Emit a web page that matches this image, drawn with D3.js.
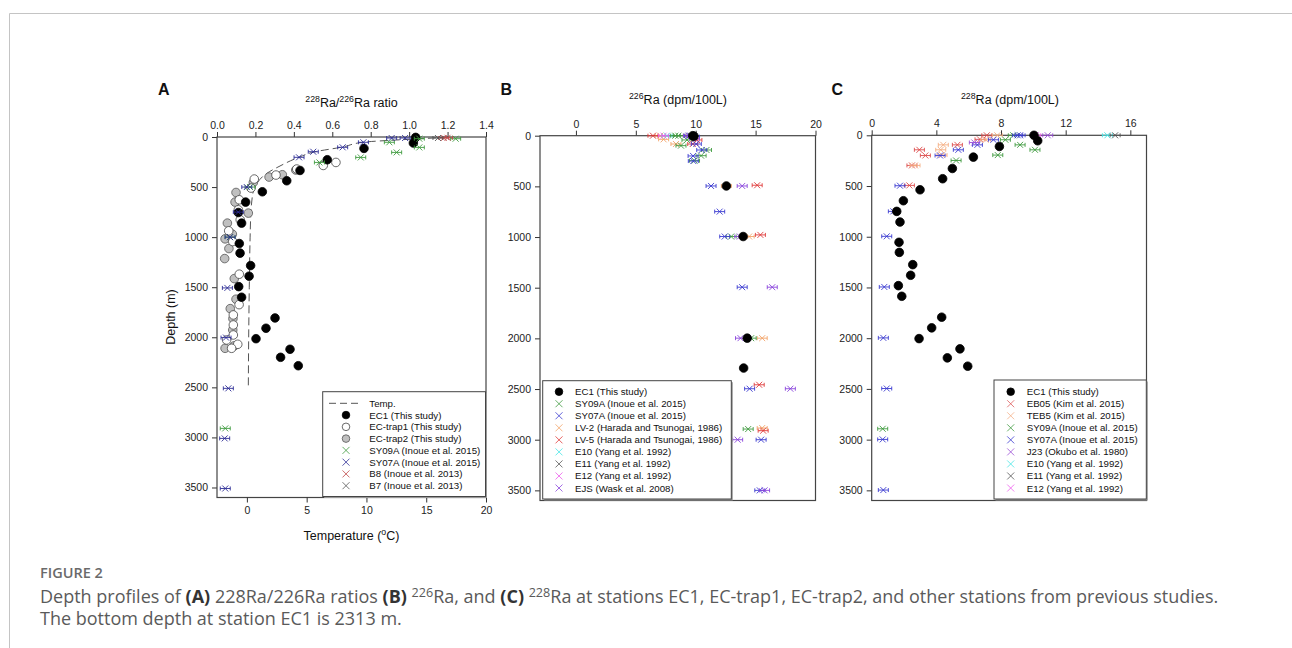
<!DOCTYPE html>
<html>
<head>
<meta charset="utf-8">
<script src="https://cdn.jsdelivr.net/npm/d3@7"></script>
<style>
  body { margin: 0; background: #fff; }
  svg { display: block; }
</style>
</head>
<body>
<div id="chart"></div>
<script>
// ---- data (value, depth in m) ----
// Panel A : 228Ra/226Ra ratio
var tempDepth = [0, 10, 30, 50, 100, 150, 200, 300, 360, 480, 600, 800, 1000, 1500, 2000, 2500];
var tempValue = [16.8, 15.6, 12.5, 9.9, 8.0, 5.6, 4.4, 2.6, 1.7, 0.75, 0.45, 0.32, 0.27, 0.2, 0.15, 0.12];

var ec1A = [[1.034, 4], [1.022, 60], [0.765, 114], [0.574, 227], [0.432, 334], [0.363, 437], [0.236, 547],
    [0.149, 650], [0.111, 754], [0.128, 860], [0.116, 1064], [0.120, 1160], [0.175, 1284], [0.167, 1390],
    [0.113, 1494], [0.128, 1600], [0.302, 1807], [0.255, 1910], [0.203, 2014], [0.380, 2120], [0.331, 2200], [0.423, 2284]];
var trap1A = [[0.619, 254], [0.553, 284], [0.415, 320], [0.307, 380], [0.194, 420], [0.177, 510], [0.116, 627],
    [0.111, 727], [0.121, 827], [0.061, 937], [0.082, 1044], [0.116, 1370], [0.115, 1674], [0.085, 1777],
    [0.085, 1877], [0.085, 1977], [0.05, 2027], [0.108, 2070], [0.076, 2110]];
var trap2A = [[0.41, 330], [0.34, 377], [0.271, 400], [0.189, 454], [0.099, 554], [0.094, 650], [0.163, 760],
    [0.054, 860], [0.080, 970], [0.042, 1017], [0.062, 1114], [0.040, 1214], [0.090, 1414], [0.099, 1620],
    [0.069, 1714], [0.083, 1814], [0.082, 1927], [0.09, 2085], [0.042, 2110]];
var sy09A_A = [[1.242, 17], [1.053, 17], [0.897, 53], [1.053, 104], [0.935, 154], [0.748, 204], [0.533, 254],
    [0.172, 500], [0.068, 1000], [0.043, 2910]];
var sy07A_A = [[0.909, 10], [0.979, 10], [0.762, 53], [0.654, 103], [0.501, 147], [0.427, 203], [0.155, 500],
    [0.111, 750], [0.068, 1000], [0.054, 1507], [0.047, 2003], [0.059, 2510], [0.04, 3010], [0.043, 3510]];
var b8A = [[1.18, 10], [1.2, 8]];
var b7A = [[1.15, 10]];

// Panel B : 226Ra (dpm/100L)
var ec1B = [[9.75, 0], [9.85, 5], [12.56, 496], [13.96, 995], [14.3, 1998], [14.0, 2293]];
var sy09B = [[8.3, 0], [8.55, 0], [9.27, 42], [8.77, 98], [10.9, 141], [10.45, 197], [9.9, 246], [12.96, 995],
    [14.63, 1998], [14.38, 2895]];
var sy07B = [[9.47, 0], [9.9, 10], [10.05, 82], [10.5, 141], [9.78, 200], [9.8, 250], [11.28, 496], [12.0, 749],
    [12.42, 995], [13.88, 1495], [14.5, 2497], [15.46, 3000], [15.35, 3500]];
var lv2B = [[7.04, 0], [7.32, 36], [8.35, 82], [12.56, 496], [14.46, 995], [15.55, 1998], [15.55, 2885]];
var lv5B = [[6.43, 0], [10.1, 42], [9.75, 82], [15.13, 489], [15.4, 979], [15.3, 2458], [15.63, 2911]];
var e10B = [[7.6, 0]];
var e11B = [[9.6, 0]];
var e12B = [[7.32, 0]];
var ejsB = [[9.4, 0], [9.9, 30], [13.88, 496], [13.68, 995], [16.39, 1495], [13.74, 1998], [17.9, 2497],
    [13.5, 3000], [15.75, 3500]];

// Panel C : 228Ra (dpm/100L)
var ec1C = [[10.04, 0], [10.27, 54], [7.9, 110], [6.29, 215], [4.99, 327], [4.39, 428], [2.99, 537], [1.96, 645],
    [1.55, 750], [1.75, 855], [1.69, 1055], [1.71, 1154], [2.54, 1275], [2.41, 1380], [1.65, 1482], [1.86, 1587],
    [4.33, 1793], [3.71, 1898], [2.93, 2004], [5.46, 2105], [4.68, 2194], [5.94, 2276]];
var eb05C = [[7.12, 0], [6.7, 40], [5.3, 94], [2.95, 143], [3.32, 199], [2.49, 297], [2.33, 494]];
var teb5C = [[7.77, 0], [7.05, 44], [4.43, 94], [4.27, 143], [4.35, 195], [2.68, 297]];
var sy09C = [[8.76, 0], [8.27, 44], [9.18, 94], [10.1, 143], [7.8, 195], [5.22, 248], [0.68, 2893]];
var sy07C = [[9.03, 0], [9.18, 0], [7.53, 44], [6.54, 94], [5.36, 143], [4.23, 199], [1.75, 497], [1.34, 750],
    [0.93, 996], [0.78, 1495], [0.72, 1997], [0.93, 2496], [0.68, 2998], [0.72, 3497]];
var j23C = [[10.89, 0], [6.35, 71]];
var e10C = [[14.58, 0]];
var e11C = [[15.06, 0]];
var e12C = [[10.15, 0]];

var depthTicks = [0, 500, 1000, 1500, 2000, 2500, 3000, 3500];
var ratioTicks = [0, 0.2, 0.4, 0.6, 0.8, 1.0, 1.2, 1.4];
var tempTicks = [0, 5, 10, 15, 20];
var ra226Ticks = [0, 5, 10, 15, 20];
var ra228Ticks = [0, 4, 8, 12, 16];

var FONT = "'Liberation Sans', Arial, sans-serif";
var CAPFONT = "'Open Sans', sans-serif";

var svg = d3.select("#chart").append("svg")
    .attr("width", 1292)
    .attr("height", 648);

// page frame
svg.append("path")
    .attr("d", "M9.5,648V13.5H1292")
    .attr("fill", "none")
    .attr("stroke", "#c4c4c4");

// text with superscripts / bold parts (shift carried to the next tspan)
function richText(sel, parts, supShift) {
    var back = 0;
    parts.forEach(function(p) {
        var t = sel.append("tspan").text(p.t);
        if (p.b) t.attr("font-weight", "bold").attr("fill", "#333");
        if (p.sup) {
            t.attr("font-size", "0.7em").attr("dy", back - supShift);
            back = supShift;
        } else if (back) {
            t.attr("dy", back);
            back = 0;
        }
    });
    return sel;
}

function styleAxis(a) {
    a.select(".domain").remove();
    a.selectAll(".tick line").attr("stroke", "#333");
    a.selectAll(".tick text")
        .attr("font-family", FONT)
        .attr("font-size", "10.5px")
        .attr("fill", "#222");
}

function makePanel(box, xDomain, xTicks, xFmt) {
    var x = d3.scaleLinear().domain(xDomain).range([box.left, box.right]);
    var y = d3.scaleLinear().domain([0, 3600]).range([box.top, box.bottom]);

    var g = svg.append("g");

    g.append("g")
        .attr("transform", `translate(0, ${box.top})`)
        .call(d3.axisTop(x).tickValues(xTicks).tickFormat(xFmt).tickSize(5).tickSizeOuter(0).tickPadding(3))
        .call(styleAxis);

    g.append("g")
        .attr("transform", `translate(${box.left}, 0)`)
        .call(d3.axisLeft(y).tickValues(depthTicks).tickFormat(d3.format("d")).tickSize(5).tickSizeOuter(0).tickPadding(4))
        .call(styleAxis);

    g.append("rect")
        .attr("x", box.left)
        .attr("y", box.top)
        .attr("width", box.right - box.left)
        .attr("height", box.bottom - box.top)
        .attr("fill", "none")
        .attr("stroke", "#444")
        .attr("stroke-width", 1.2);

    return {g: g, x: x, y: y};
}

function drawCircles(p, data, fill, stroke) {
    p.g.append("g").selectAll("circle")
        .data(data)
        .enter()
        .append("circle")
        .attr("cx", d => p.x(d[0]))
        .attr("cy", d => p.y(d[1]))
        .attr("r", 4.3)
        .attr("fill", fill)
        .attr("stroke", stroke)
        .attr("stroke-width", 0.8);
}

// x marker with small horizontal error bar
function drawCrosses(p, data, color) {
    p.g.append("g").selectAll("path")
        .data(data)
        .enter()
        .append("path")
        .attr("transform", d => `translate(${p.x(d[0])}, ${p.y(d[1])})`)
        .attr("d", "M-3,-3L3,3M-3,3L3,-3M-5,0H5M-5,-2V2M5,-2V2")
        .attr("fill", "none")
        .attr("stroke", color)
        .attr("stroke-width", 0.9);
}

function drawLegend(lg, items) {
    var g = svg.append("g");
    // shadow then box
    g.append("rect")
        .attr("x", lg.x0 + 1.5).attr("y", lg.y0 + 1.5)
        .attr("width", lg.x1 - lg.x0).attr("height", lg.y1 - lg.y0)
        .attr("fill", "#999");
    g.append("rect")
        .attr("x", lg.x0).attr("y", lg.y0)
        .attr("width", lg.x1 - lg.x0).attr("height", lg.y1 - lg.y0)
        .attr("fill", "#fff")
        .attr("stroke", "#444");

    items.forEach(function(it, i) {
        var cy = lg.row0 + i * lg.step;
        if (it.kind === "line") {
            g.append("line")
                .attr("x1", lg.sx - 17).attr("x2", lg.sx + 12)
                .attr("y1", cy).attr("y2", cy)
                .attr("stroke", "#555")
                .attr("stroke-dasharray", "7,4");
        } else if (it.kind === "circle") {
            g.append("circle")
                .attr("cx", lg.sx).attr("cy", cy).attr("r", 3.8)
                .attr("fill", it.fill).attr("stroke", it.stroke).attr("stroke-width", 0.8);
        } else {
            g.append("path")
                .attr("transform", `translate(${lg.sx}, ${cy})`)
                .attr("d", "M-3.5,-3.5L3.5,3.5M-3.5,3.5L3.5,-3.5")
                .attr("stroke", it.color)
                .attr("stroke-width", 0.8);
        }
        g.append("text")
            .attr("x", lg.tx)
            .attr("y", cy + 3.5)
            .attr("font-family", FONT)
            .attr("font-size", "9.7px")
            .attr("fill", "#111")
            .text(it.label);
    });
}

function panelLetter(x, txt) {
    svg.append("text")
        .attr("x", x).attr("y", 95)
        .attr("font-family", FONT)
        .attr("font-size", "16px")
        .attr("font-weight", "bold")
        .attr("fill", "#111")
        .text(txt);
}

function axisTitle(x, y, parts) {
    var t = svg.append("text")
        .attr("x", x).attr("y", y)
        .attr("text-anchor", "middle")
        .attr("font-family", FONT)
        .attr("font-size", "12.5px")
        .attr("fill", "#111");
    richText(t, parts, 5);
}

var green = "#3f9b3f", blue = "#3b3bd0", navy = "#2c2c95", red = "#e03a3a", orange = "#f3a46a",
    cyan = "#45e6e6", dark = "#555555", magenta = "#ee5cee", purple = "#8a45dd";

// ---------- Panel A ----------
var boxA = {left: 217, right: 486, top: 137, bottom: 497.5};
var pA = makePanel(boxA, [0, 1.4], ratioTicks, d3.format(".1f"));
var xTemp = d3.scaleLinear().domain([-2.5, 20]).range([boxA.left, boxA.right]);

pA.g.append("g")
    .attr("transform", `translate(0, ${boxA.bottom})`)
    .call(d3.axisBottom(xTemp).tickValues(tempTicks).tickSize(5).tickSizeOuter(0).tickPadding(4))
    .call(styleAxis);

var tempLine = d3.line()
    .x(d => xTemp(d[0]))
    .y(d => pA.y(d[1]))
    .curve(d3.curveMonotoneY);

pA.g.append("path")
    .datum(tempDepth.map((d, i) => [tempValue[i], d]))
    .attr("d", tempLine)
    .attr("fill", "none")
    .attr("stroke", "#555")
    .attr("stroke-width", 1)
    .attr("stroke-dasharray", "8,4");

drawCircles(pA, trap2A, "#c0c0c0", "#555");
drawCircles(pA, trap1A, "#fff", "#444");
drawCircles(pA, ec1A, "#000", "#000");
drawCrosses(pA, sy09A_A, green);
drawCrosses(pA, sy07A_A, navy);
drawCrosses(pA, b8A, "#c04848");
drawCrosses(pA, b7A, dark);

drawLegend({x0: 322.7, x1: 485.5, y0: 391.7, y1: 496.5, row0: 403.3, step: 11.77, sx: 346, tx: 369.3}, [
    {kind: "line", label: "Temp."},
    {kind: "circle", fill: "#000", stroke: "#000", label: "EC1 (This study)"},
    {kind: "circle", fill: "#fff", stroke: "#444", label: "EC-trap1 (This study)"},
    {kind: "circle", fill: "#c0c0c0", stroke: "#555", label: "EC-trap2 (This study)"},
    {kind: "x", color: green, label: "SY09A (Inoue et al. 2015)"},
    {kind: "x", color: navy, label: "SY07A (Inoue et al. 2015)"},
    {kind: "x", color: "#c04848", label: "B8 (Inoue et al. 2013)"},
    {kind: "x", color: dark, label: "B7 (Inoue et al. 2013)"}
]);

panelLetter(158, "A");
axisTitle(351.5, 106.5, [{t: "228", sup: true}, {t: "Ra/"}, {t: "226", sup: true}, {t: "Ra ratio"}]);
axisTitle(351.5, 539.5, [{t: "Temperature ("}, {t: "o", sup: true}, {t: "C)"}]);

svg.append("text")
    .attr("transform", "translate(175, 317) rotate(-90)")
    .attr("text-anchor", "middle")
    .attr("font-family", FONT)
    .attr("font-size", "12.5px")
    .attr("fill", "#111")
    .text("Depth (m)");

// ---------- Panel B ----------
var boxB = {left: 540, right: 815.5, top: 135.7, bottom: 500.5};
var pB = makePanel(boxB, [-3, 20], ra226Ticks, d3.format("d"));

drawCrosses(pB, lv2B, orange);
drawCrosses(pB, lv5B, red);
drawCrosses(pB, e10B, cyan);
drawCrosses(pB, e11B, dark);
drawCrosses(pB, e12B, magenta);
drawCrosses(pB, sy09B, green);
drawCrosses(pB, sy07B, blue);
drawCrosses(pB, ejsB, purple);
drawCircles(pB, ec1B, "#000", "#000");

drawLegend({x0: 542.7, x1: 731.3, y0: 380.7, y1: 499, row0: 391.7, step: 12.04, sx: 559, tx: 575}, [
    {kind: "circle", fill: "#000", stroke: "#000", label: "EC1 (This study)"},
    {kind: "x", color: green, label: "SY09A (Inoue et al. 2015)"},
    {kind: "x", color: blue, label: "SY07A (Inoue et al. 2015)"},
    {kind: "x", color: orange, label: "LV-2 (Harada and Tsunogai, 1986)"},
    {kind: "x", color: red, label: "LV-5 (Harada and Tsunogai, 1986)"},
    {kind: "x", color: cyan, label: "E10 (Yang et al. 1992)"},
    {kind: "x", color: dark, label: "E11 (Yang et al. 1992)"},
    {kind: "x", color: magenta, label: "E12 (Yang et al. 1992)"},
    {kind: "x", color: purple, label: "EJS (Wask et al. 2008)"}
]);

panelLetter(500.5, "B");
axisTitle(678, 103.5, [{t: "226", sup: true}, {t: "Ra (dpm/100L)"}]);

// ---------- Panel C ----------
var boxC = {left: 871.7, right: 1146.5, top: 135.3, bottom: 500.5};
var pC = makePanel(boxC, [0, 17], ra228Ticks, d3.format("d"));

drawCrosses(pC, eb05C, "#dd4c4c");
drawCrosses(pC, teb5C, "#f4ad80");
drawCrosses(pC, sy09C, green);
drawCrosses(pC, sy07C, blue);
drawCrosses(pC, j23C, "#9a4fd6");
drawCrosses(pC, e10C, cyan);
drawCrosses(pC, e11C, dark);
drawCrosses(pC, e12C, magenta);
drawCircles(pC, ec1C, "#000", "#000");

drawLegend({x0: 994, x1: 1146.3, y0: 380, y1: 499, row0: 391.7, step: 12.04, sx: 1010.7, tx: 1026.7}, [
    {kind: "circle", fill: "#000", stroke: "#000", label: "EC1 (This study)"},
    {kind: "x", color: "#dd5a5a", label: "EB05 (Kim et al. 2015)"},
    {kind: "x", color: "#f4b088", label: "TEB5 (Kim et al. 2015)"},
    {kind: "x", color: green, label: "SY09A (Inoue et al. 2015)"},
    {kind: "x", color: blue, label: "SY07A (Inoue et al. 2015)"},
    {kind: "x", color: "#9a4fd6", label: "J23 (Okubo et al. 1980)"},
    {kind: "x", color: cyan, label: "E10 (Yang et al. 1992)"},
    {kind: "x", color: dark, label: "E11 (Yang et al. 1992)"},
    {kind: "x", color: magenta, label: "E12 (Yang et al. 1992)"}
]);

panelLetter(831.5, "C");
axisTitle(1010, 103.5, [{t: "228", sup: true}, {t: "Ra (dpm/100L)"}]);

// ---------- caption ----------
svg.append("text")
    .attr("x", 40).attr("y", 578)
    .attr("font-family", CAPFONT)
    .attr("font-size", "14.5px")
    .attr("font-weight", 600)
    .attr("fill", "#6a6a6a")
    .text("FIGURE 2");

var cap1 = svg.append("text")
    .attr("x", 40).attr("y", 603)
    .attr("font-family", CAPFONT)
    .attr("font-size", "18px")
    .attr("fill", "#5a5a5a");
richText(cap1, [
    {t: "Depth profiles of "}, {t: "(A)", b: true}, {t: " 228Ra/226Ra ratios "}, {t: "(B)", b: true}, {t: " "},
    {t: "226", sup: true}, {t: "Ra, and "}, {t: "(C)", b: true}, {t: " "}, {t: "228", sup: true},
    {t: "Ra at stations EC1, EC-trap1, EC-trap2, and other stations from previous studies."}
], 6);

svg.append("text")
    .attr("x", 40).attr("y", 625)
    .attr("font-family", CAPFONT)
    .attr("font-size", "18px")
    .attr("fill", "#5a5a5a")
    .text("The bottom depth at station EC1 is 2313 m.");
</script>
</body>
</html>
